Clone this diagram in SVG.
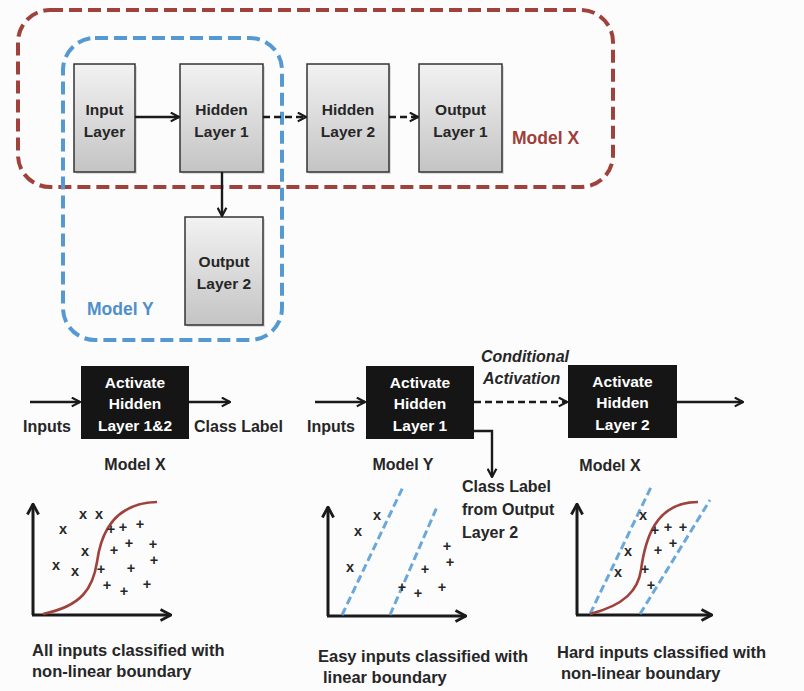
<svg xmlns="http://www.w3.org/2000/svg" width="804" height="691" viewBox="0 0 804 691">
<defs>
<linearGradient id="g" x1="0" y1="0" x2="0" y2="1">
<stop offset="0" stop-color="#f2f2f2"/>
<stop offset="1" stop-color="#c4c4c4"/>
</linearGradient>
<marker id="ah" viewBox="0 0 10 10" refX="9" refY="5" markerWidth="11" markerHeight="11" orient="auto" markerUnits="userSpaceOnUse">
<path d="M1.5,1 L9,5 L1.5,9" fill="none" stroke="#1a1a1a" stroke-width="2"/>
</marker>
<marker id="ah2" viewBox="0 0 10 10" refX="9" refY="5" markerWidth="14" markerHeight="14" orient="auto" markerUnits="userSpaceOnUse">
<path d="M1.5,1 L9,5 L1.5,9" fill="none" stroke="#1a1a1a" stroke-width="2"/>
</marker>
</defs>
<style>
text{font-family:"Liberation Sans",Arial,sans-serif;font-weight:bold;fill:#262626}
.box{fill:url(#g);stroke:#333;stroke-width:1.5}
.sh{fill:#bbb;opacity:0.5}
.blk{fill:#151515}
.w{fill:#ffffff;font-size:15.5px;text-anchor:middle}
.t{font-size:15.5px;text-anchor:middle}
.lbl{font-size:16px}
.cap{font-size:16.5px}
.c{stroke:#1a1a1a;stroke-width:2.4;fill:none}
.d{stroke-dasharray:7 4}
.redd{fill:none;stroke:#a0423c;stroke-width:4;stroke-dasharray:13 6}
.blued{fill:none;stroke:#5599d2;stroke-width:4;stroke-dasharray:13 6}
.bl{stroke:#6aa8dc;stroke-width:3;stroke-dasharray:8 4;fill:none}
.rc{stroke:#a0423c;stroke-width:2.6;fill:none}
.ax{stroke:#1a1a1a;stroke-width:3;fill:none}
.m{font-size:14.5px;text-anchor:middle}
</style>
<rect width="804" height="691" fill="#fcfcfd"/>

<g id="modelX-group">
<rect class="redd" x="18" y="10" width="595" height="177" rx="32"/>
<text x="512" y="144" style="font-size:17.5px;fill:#9e3f3a">Model X</text>
</g>
<g id="modelY-group">
<rect class="blued" x="63" y="38" width="219" height="302" rx="32"/>
<text x="87" y="315" style="font-size:17.5px;fill:#4f8fcb">Model Y</text>
</g>

<g id="input-layer">
<rect class="sh" x="76" y="66" width="61" height="108"/>
<rect class="box" x="74" y="64" width="61" height="108"/>
<text class="t" x="104.5" y="115">Input</text>
<text class="t" x="104.5" y="137">Layer</text>
</g>
<g id="hidden-layer-1">
<rect class="sh" x="182" y="66" width="83" height="108"/>
<rect class="box" x="180" y="64" width="83" height="108"/>
<text class="t" x="221.5" y="115">Hidden</text>
<text class="t" x="221.5" y="137">Layer 1</text>
</g>
<g id="hidden-layer-2">
<rect class="sh" x="309" y="66" width="82" height="108"/>
<rect class="box" x="307" y="64" width="82" height="108"/>
<text class="t" x="348" y="115">Hidden</text>
<text class="t" x="348" y="137">Layer 2</text>
</g>
<g id="output-layer-1">
<rect class="sh" x="421" y="66" width="83" height="108"/>
<rect class="box" x="419" y="64" width="83" height="108"/>
<text class="t" x="460.5" y="115">Output</text>
<text class="t" x="460.5" y="137">Layer 1</text>
</g>
<g id="output-layer-2">
<rect class="sh" x="187" y="219" width="78" height="108"/>
<rect class="box" x="185" y="217" width="78" height="108"/>
<text class="t" x="224" y="267">Output</text>
<text class="t" x="224" y="289">Layer 2</text>
</g>

<g id="flow-x">
<rect class="blk" x="81" y="366" width="108" height="73"/>
<text class="w" x="135" y="388">Activate</text>
<text class="w" x="135" y="409">Hidden</text>
<text class="w" x="135" y="431">Layer 1&amp;2</text>
</g>
<g id="flow-y">
<rect class="blk" x="366" y="366" width="108" height="73"/>
<text class="w" x="420" y="388">Activate</text>
<text class="w" x="420" y="409">Hidden</text>
<text class="w" x="420" y="431">Layer 1</text>
</g>
<g id="flow-x2">
<rect class="blk" x="568" y="365" width="109" height="73"/>
<text class="w" x="622.5" y="387">Activate</text>
<text class="w" x="622.5" y="408">Hidden</text>
<text class="w" x="622.5" y="430">Layer 2</text>
</g>

<g id="connectors">
<line class="c" x1="135" y1="117" x2="179" y2="117" marker-end="url(#ah)"/>
<line class="c d" x1="263" y1="117" x2="306" y2="117" marker-end="url(#ah)"/>
<line class="c d" x1="389" y1="117" x2="418" y2="117" marker-end="url(#ah)"/>
<line class="c" x1="222" y1="172" x2="222" y2="216" marker-end="url(#ah)"/>
<line class="c" x1="30" y1="402" x2="80" y2="402" marker-end="url(#ah)"/>
<line class="c" x1="189" y1="402" x2="230" y2="402" marker-end="url(#ah)"/>
<line class="c" x1="315" y1="402" x2="365" y2="402" marker-end="url(#ah)"/>
<line class="c d" x1="474" y1="402" x2="567" y2="402" marker-end="url(#ah)"/>
<line class="c" x1="677" y1="402" x2="743" y2="402" marker-end="url(#ah)"/>
<path class="c" d="M474,431 H492 V477" marker-end="url(#ah)"/>
</g>

<g id="labels">
<text class="lbl" x="23" y="432">Inputs</text>
<text class="lbl" x="194" y="432">Class Label</text>
<text class="lbl" x="135" y="470" text-anchor="middle">Model X</text>
<text class="lbl" x="307" y="432">Inputs</text>
<text class="lbl" x="481" y="362" font-style="italic">Conditional</text>
<text class="lbl" x="483" y="384" font-style="italic">Activation</text>
<text class="lbl" x="403" y="470" text-anchor="middle">Model Y</text>
<text class="lbl" x="610" y="471" text-anchor="middle">Model X</text>
<text class="lbl" x="462" y="492">Class Label</text>
<text class="lbl" x="462" y="515">from Output</text>
<text class="lbl" x="462" y="538">Layer 2</text>
</g>

<g id="chart-1">
<line class="ax" x1="33" y1="615" x2="33" y2="504" marker-end="url(#ah2)"/>
<line class="ax" x1="32" y1="615" x2="171" y2="615" marker-end="url(#ah2)"/>
<path class="rc" d="M43,614 C82,606 93,588 97,562 C101,532 115,503 157,502"/>
<g class="m">
<text x="83" y="519">x</text><text x="99" y="519">x</text><text x="63" y="534">x</text>
<text x="85" y="556">x</text><text x="56" y="570">x</text><text x="75" y="576">x</text>
<text x="111" y="534">+</text><text x="123" y="532">+</text><text x="140" y="529">+</text>
<text x="129" y="548">+</text><text x="153" y="549">+</text><text x="114" y="555">+</text>
<text x="154" y="565">+</text><text x="101" y="574">+</text><text x="131" y="573">+</text>
<text x="107" y="590">+</text><text x="124" y="596">+</text><text x="147" y="589">+</text>
</g>
<text class="cap" x="32" y="656">All inputs classified with</text>
<text class="cap" x="32" y="677">non-linear boundary</text>
</g>

<g id="chart-2">
<line class="ax" x1="328" y1="616" x2="328" y2="507" marker-end="url(#ah2)"/>
<line class="ax" x1="327" y1="616" x2="466" y2="616" marker-end="url(#ah2)"/>
<line class="bl" x1="342" y1="615" x2="403" y2="487"/>
<line class="bl" x1="390" y1="615" x2="437" y2="507"/>
<g class="m">
<text x="377" y="520">x</text><text x="358" y="536">x</text><text x="350" y="572">x</text>
<text x="447" y="551">+</text><text x="450" y="567">+</text><text x="425" y="574">+</text>
<text x="402" y="592">+</text><text x="418" y="598">+</text><text x="442" y="592">+</text>
</g>
<text class="cap" x="318" y="662">Easy inputs classified with</text>
<text class="cap" x="323" y="683">linear boundary</text>
</g>

<g id="chart-3">
<line class="ax" x1="577" y1="615" x2="577" y2="504" marker-end="url(#ah2)"/>
<line class="ax" x1="576" y1="615" x2="712" y2="615" marker-end="url(#ah2)"/>
<line class="bl" x1="590" y1="614" x2="652" y2="485"/>
<line class="bl" x1="640" y1="614" x2="710" y2="500"/>
<path class="rc" d="M590,614 C625,605 638,590 641,570 C645,540 655,502 698,502"/>
<g class="m">
<text x="643" y="520">x</text><text x="628" y="556">x</text><text x="618" y="577">x</text>
<text x="655" y="535">+</text><text x="668" y="532">+</text><text x="683" y="532">+</text>
<text x="673" y="548">+</text><text x="658" y="555">+</text><text x="645" y="574">+</text>
<text x="651" y="590">+</text>
</g>
<text class="cap" x="557" y="658">Hard inputs classified with</text>
<text class="cap" x="561" y="679">non-linear boundary</text>
</g>
</svg>
